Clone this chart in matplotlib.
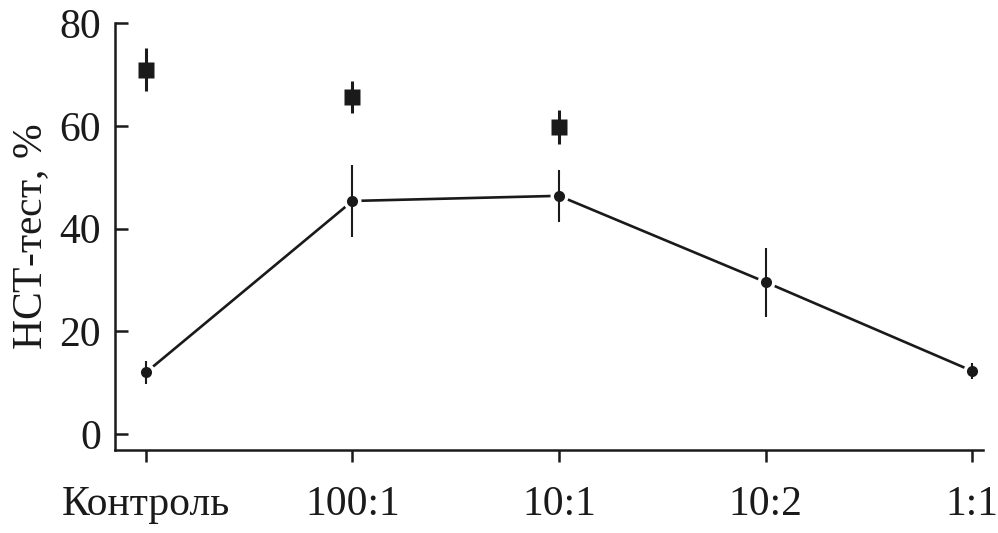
import matplotlib
matplotlib.use("Agg")
import matplotlib.pyplot as plt
import numpy as np

categories = ["Контроль", "100:1", "10:1", "10:2", "1:1"]
line_vals = [12.0, 45.4, 46.4, 29.6, 12.3]
line_err = [2.3, 7.1, 5.1, 6.7, 1.5]
square_vals = [71.0, 65.7, 59.8]
square_err = [4.2, 3.1, 3.3]
yticks = [0, 20, 40, 60, 80]

plt.rcParams['font.family'] = ['Liberation Serif', 'DejaVu Serif']
plt.rcParams['mathtext.fontset'] = 'custom'
plt.rcParams['mathtext.rm'] = 'Liberation Serif'
plt.rcParams['mathtext.it'] = 'Liberation Serif:italic'

fig = plt.figure(figsize=(9.98, 5.33), dpi=100)
ax = fig.add_axes([0.1152, 0.1557, 0.985 - 0.1152, 0.9563 - 0.1557])

x = np.arange(len(categories))
xs = x[:len(square_vals)]

ax.plot(x, line_vals, color='#1a1a1a', lw=1.9, zorder=1, solid_capstyle='butt')
ax.plot(x, line_vals, 'o', color='white', ms=13, mec='none', zorder=2)
ax.errorbar(x, line_vals, yerr=line_err, fmt='none', ecolor='#1a1a1a',
            elinewidth=1.5, capsize=0, zorder=3)
ax.plot(x, line_vals, 'o', color='#1a1a1a', ms=8, mec='none', zorder=4)

ax.errorbar(xs, square_vals, yerr=square_err, fmt='none', ecolor='#1a1a1a',
            elinewidth=2.2, capsize=0, zorder=3)
ax.plot(xs, square_vals, 's', color='#1a1a1a', ms=11, mec='none', zorder=4)

ax.set_xlim(-0.15, 4.053)
ax.set_ylim(-3.1, 80)
ax.set_xticks(x)
ax.set_xticklabels(categories)
ax.set_yticks(yticks)

for s in ['top', 'right']:
    ax.spines[s].set_visible(False)
for s in ['left', 'bottom']:
    ax.spines[s].set_linewidth(1.8)
    ax.spines[s].set_color('#1a1a1a')

ax.tick_params(axis='y', direction='in', length=9.5, width=1.8, pad=10,
               labelsize=30, colors='#1a1a1a')
ax.tick_params(axis='x', direction='out', length=8.5, width=1.8, pad=17,
               labelsize=30, colors='#1a1a1a')
ax.set_ylabel(r"НСТ-тест, $\mathit{\%}$", fontsize=30, color='#1a1a1a', labelpad=6)

fig.savefig("out.png", dpi=100)
